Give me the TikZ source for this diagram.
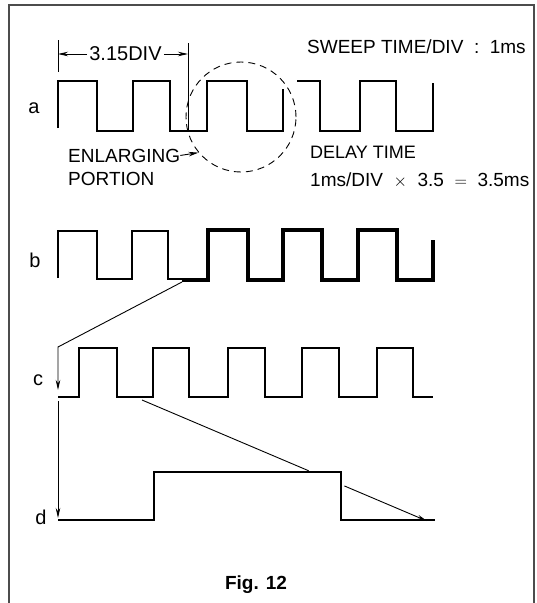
\documentclass[tikz,border=0pt]{standalone}
\usepackage{fontspec}
\setmainfont{Liberation Sans}
\usetikzlibrary{arrows.meta,calc}

\begin{document}
\begin{tikzpicture}[
  x=1pt, y=-1pt,
  wave/.style={line width=1.8pt, line join=miter},
  boldwave/.style={line width=3.8pt, line join=miter},
  thinline/.style={line width=0.9pt},
  arrow/.style={-{Stealth[length=10pt,width=4.5pt]}, line width=0.9pt},
  lbl/.style={font=\fontsize{20}{23}\selectfont, inner sep=0pt, anchor=base},
  txt/.style={font=\fontsize{19}{22}\selectfont, inner sep=0pt, anchor=base west}
]
\useasboundingbox (0,0) rectangle (537,603);
\draw[line width=1.4pt, black!70] (9,603) -- (9,5) -- (534,5) -- (534,603);

\node[txt] (sweep) at (307,53) {SWEEP TIME/DIV\ \ :\ \ 1ms};

\node[lbl] (la) at (34,113) {a};
\node[lbl] (lb) at (35,267) {b};
\node[lbl] (lc) at (38,385) {c};
\node[lbl] (ld) at (41,524) {d};

% signal a
\draw[wave] (58,128) -- (58,81) -- (97,81) -- (97,131) -- (133,131) -- (133,81) -- (170,81) -- (170,131)
  -- (207,131) -- (207,81) -- (247,81) -- (247,131) -- (283,131) -- (283,89);
\draw[wave] (297,81) -- (320,81) -- (320,131) -- (360,131) -- (360,81) -- (396,81) -- (396,131)
  -- (433,131) -- (433,83);

% 3.15 DIV
\coordinate (dimL) at (58,54);
\coordinate (dimR) at (188,54);
\draw[thinline] (58,40) -- (58,72);
\draw[thinline] (188,43) -- (188,130);
\node[lbl, anchor=center, fill=white, inner xsep=2pt] (dim) at (125.5,54) {3.15DIV};
\draw[arrow] (dim.west) -- (dimL);
\draw[arrow] (dim.east) -- (dimR);

\node[draw, circle, dashed, dash pattern=on 7pt off 5pt, thinline, inner sep=0pt, minimum size=110pt] (portion) at (241,117) {};

\node[txt] (enlarge) at (68,162) {ENLARGING};
\node[txt] (portiontxt) at (68,185) {PORTION};
\draw[arrow] (enlarge.east) -- (portion.220);

\node[txt, font=\fontsize{18}{21}\selectfont] (delay) at (310,158) {DELAY TIME};
\node[txt] (delayval) at (310,186) {1ms/DIV\ \ $\times$\ \ 3.5\ \ $=$\ \ 3.5ms};

% signal b
\draw[wave] (58,278) -- (58,231) -- (97,231) -- (97,279) -- (132,279) -- (132,231) -- (168,231) -- (168,279) -- (184,279);
\draw[boldwave] (182,280) -- (208,280) -- (208,230) -- (248,230) -- (248,280) -- (283,280) -- (283,230) -- (322,230)
  -- (322,280) -- (358,280) -- (358,230) -- (397,230) -- (397,280) -- (433,280) -- (433,240);

% signal c
\draw[wave] (58,397) -- (79,397) -- (79,348) -- (117,348) -- (117,397) -- (153,397) -- (153,348) -- (189,348)
  -- (189,397) -- (228,397) -- (228,348) -- (265,348) -- (265,397) -- (302,397) -- (302,348) -- (339,348)
  -- (339,397) -- (377,397) -- (377,348) -- (413,348) -- (413,397) -- (433,397);

% signal d
\draw[wave] (58,520) -- (154,520) -- (154,472) -- (341,472) -- (341,520) -- (435,520);

\coordinate (bdelay) at (182,282);
\coordinate (cbend) at (58,347);
\coordinate (cin) at (58,390);
\coordinate (cout) at (58,401);
\coordinate (din) at (58,518);
\coordinate (cgate) at (142,400);
\coordinate (dend) at (427,521);

\draw[arrow] (bdelay) -- (cbend) -- (cin);
\draw[arrow] (cout) -- (din);
\draw[thinline] (cgate) -- ($(cgate)!0.585!(dend)$);
\draw[arrow] ($(cgate)!0.71!(dend)$) -- (dend);

\node[lbl, font=\fontsize{19}{22}\selectfont\bfseries] (fig) at (256,589) {Fig. 12};
\end{tikzpicture}
\end{document}
